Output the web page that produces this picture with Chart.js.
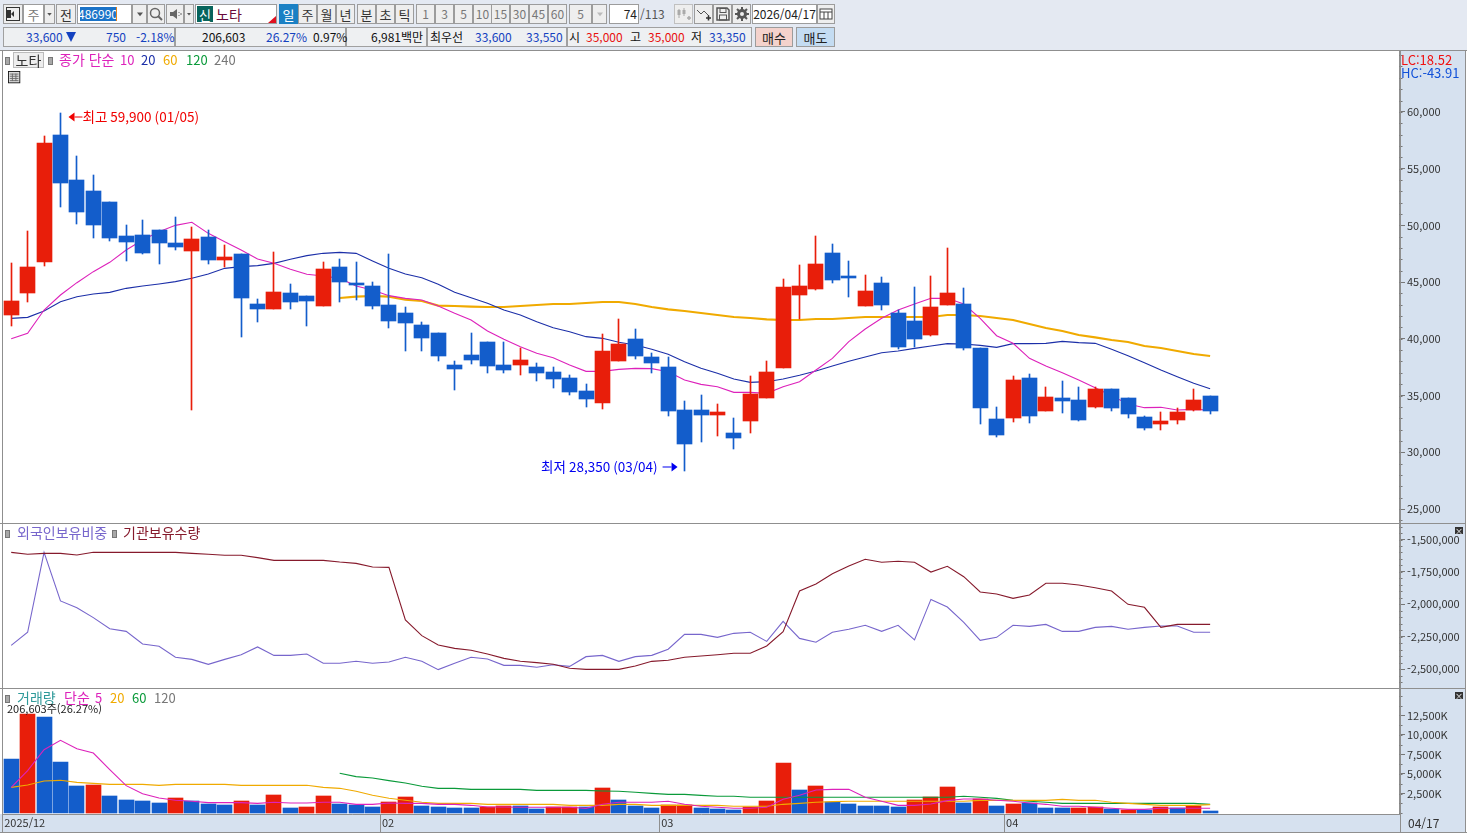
<!DOCTYPE html>
<html lang="ko">
<head>
<meta charset="utf-8">
<title>노타 486990 일봉</title>
<script src="https://cdn.jsdelivr.net/npm/chart.js@4"></script>
<style>
  html, body { margin: 0; padding: 0; background: #fff; overflow: hidden; }
  body { width: 1467px; height: 835px; position: relative; font-family: "Noto Sans CJK KR", "Noto Sans", sans-serif; }
  .abs { position: absolute; white-space: pre; box-sizing: border-box; line-height: 1; }
  .btn { display: flex; align-items: center; justify-content: center; background: #eeeeee; border: 1px solid #9c9c9c; color: #333; font-size: 13px; }
  .cell { background: #eef0f2; border: 1px solid #a0a0a0; }
  .txt { font-size: 12px; display: flex; align-items: center; }
  .rule { position: absolute; background: #8f8f8f; }
  canvas { position: absolute; left: 0; }
</style>
</head>
<body>
<div class="abs" style="left:0;top:0;width:1467px;height:50px;background:#e4e9f2"></div>
<canvas id="priceChart" width="1465" height="472" style="top:51px"></canvas>
<canvas id="holdingChart" width="1465" height="164" style="top:524px"></canvas>
<canvas id="volumeChart" width="1465" height="143" style="top:689px"></canvas>
<div id="chrome"></div>
<script>
// Trading days shown on the shared time axis
const tradingDays = [
  '12/29','12/30','01/02','01/05','01/06','01/07','01/08','01/09','01/12','01/13','01/14','01/15','01/16',
  '01/19','01/20','01/21','01/22','01/23','01/26','01/27','01/28','01/29','01/30','02/02','02/03','02/04',
  '02/05','02/06','02/09','02/10','02/11','02/12','02/13','02/19','02/20','02/23','02/24','02/25','02/26',
  '02/27','03/03','03/04','03/05','03/06','03/09','03/10','03/11','03/12','03/13','03/16','03/17','03/18',
  '03/19','03/20','03/23','03/24','03/25','03/26','03/27','03/30','03/31','04/01','04/02','04/03','04/06',
  '04/07','04/08','04/09','04/10','04/13','04/14','04/15','04/16','04/17'
];
const emptySlots = 11;
const monthLabels = { 0: '2025/12', 23: '02', 40: '03', 61: '04' };

// Daily prices (KRW)
const openPrices = [42100,44050,46750,58000,54000,53000,52100,49050,49150,49600,48450,47750,48950,46950,47450,43050,42650,44050,43750,42900,46350,44900,44650,43000,42250,41200,40500,37700,38550,39700,37700,37700,37500,37050,36550,35400,34350,38050,40000,38400,37500,33700,33700,33300,31700,32750,34800,37450,43850,44400,47550,45550,42900,44900,42250,41550,40350,43000,43050,39200,32950,33000,36550,33650,34800,34600,34000,35600,34800,33100,32500,32850,33700,35000];
const closePrices = [43350,46350,57300,53700,51200,50000,48900,48550,47550,48450,48100,48800,46950,47200,43600,42650,44150,43250,43350,46150,45000,44750,42900,41550,41400,40050,38500,37350,38150,37600,37250,38150,37000,36450,35300,34700,38900,39550,38500,37850,33650,30750,33300,33550,31250,35150,37050,44550,44650,46600,45200,45350,44200,43000,39300,40000,42800,44050,39200,33900,31500,36350,33200,34850,34500,32850,35600,33900,33400,32150,32750,33550,34600,33600];
const highPrices = [46700,49500,57900,59900,56100,54400,52100,50000,50500,49600,50700,49850,49600,48250,47450,43500,47650,44850,43750,46750,47050,46750,45000,47450,42800,41500,40500,38050,40500,39700,39700,39200,37850,37500,36800,36000,40400,41750,40850,38750,38400,34500,35050,34250,33000,36700,38050,45250,46500,49050,48350,46850,45600,45450,42550,44550,45550,48000,44500,39200,34000,36700,36900,35750,36300,35750,35750,35600,34800,33200,33550,33900,35600,35000];
const lowPrices = [41150,43250,46450,51600,50100,48900,48600,46850,47450,46600,47850,33700,46600,46350,40150,41500,42650,42650,41150,42900,43250,43400,42650,40950,38900,38900,38050,35500,37800,37000,37000,36800,36300,35650,35050,34000,33800,38050,38200,37000,33200,28350,30900,31450,30300,31700,34800,37450,41750,44300,44900,43700,42900,42550,39100,39300,40250,43000,39000,32500,31350,32650,32600,33650,33450,32750,33900,33650,33000,31950,31950,32500,33650,33350];

// Closing-price moving averages
const priceMa10 = [40012,40482,42538,43860,44947,45917,46739,47826,48708,49442,50000,50265,49295,48561,47826,47033,46651,46122,45682,45535,45329,44654,44301,43802,43567,43420,42891,42245,41657,40688,39953,39307,38720,38338,37691,37133,37133,37309,37398,37369,37104,36369,35987,35782,35282,35282,35194,35782,36222,37251,38279,39748,40864,41804,42539,43067,43567,43567,43067,41804,40276,39601,38279,37603,37016,36369,35694,34989,34254,33931,33961,33725,33784,33725];
const priceMa20 = [41804,41892,42450,43273,43714,43949,44095,44448,44654,44830,45036,45329,45711,46211,46357,46446,46651,47004,47327,47533,47621,47533,46857,46211,45711,45388,44801,44096,43625,43126,42539,42098,41510,40982,40629,40188,40041,39689,39454,39072,38631,37985,37398,36957,36457,36164,36222,36457,36781,37163,37603,38014,38396,38778,38925,39160,39366,39571,39541,39425,39248,39571,39571,39601,39777,39660,39601,39072,38514,37897,37251,36663,36076,35606];
const priceMa60 = [null,null,null,null,null,null,null,null,null,null,null,null,null,null,null,null,null,null,null,null,43596,43714,43772,43714,43449,43332,42920,42891,42832,42803,42803,42891,42979,43067,43067,43155,43244,43244,43067,42803,42597,42450,42274,42098,41922,41833,41716,41657,41657,41745,41745,41833,41922,41922,41922,41922,41922,42098,42098,42010,41833,41657,41305,40952,40688,40335,40130,39895,39718,39366,39190,38925,38661,38484];

// Institutional holdings (shares) and the foreign holding ratio read on the same panel
const institutionHoldings = [-1599,-1614,-1607,-1607,-1620,-1599,-1599,-1599,-1599,-1599,-1599,-1607,-1614,-1622,-1622,-1640,-1661,-1661,-1661,-1661,-1674,-1684,-1712,-1715,-2121,-2242,-2314,-2340,-2355,-2383,-2417,-2440,-2450,-2463,-2494,-2502,-2502,-2502,-2476,-2440,-2432,-2409,-2399,-2389,-2378,-2378,-2322,-2211,-1897,-1843,-1764,-1704,-1653,-1676,-1668,-1676,-1751,-1707,-1787,-1905,-1920,-1954,-1928,-1838,-1838,-1851,-1872,-1897,-2000,-2023,-2178,-2155,-2155,-2155];
const foreignRatio = [-2317,-2216,-1599,-1974,-2026,-2103,-2188,-2209,-2306,-2324,-2409,-2425,-2463,-2425,-2389,-2329,-2394,-2394,-2383,-2455,-2455,-2440,-2455,-2445,-2409,-2440,-2504,-2455,-2409,-2422,-2471,-2471,-2486,-2466,-2479,-2404,-2394,-2440,-2404,-2394,-2347,-2232,-2232,-2255,-2224,-2216,-2286,-2131,-2263,-2293,-2216,-2193,-2162,-2209,-2162,-2275,-1962,-2021,-2139,-2278,-2255,-2162,-2170,-2155,-2209,-2209,-2178,-2170,-2193,-2178,-2167,-2167,-2216,-2216];

// Traded volume (thousand shares); 1 marks a day with more volume than the day before
const volumes = [6924,12692,12307,6539,3462,3591,2180,1668,1540,1283,1924,1540,1155,1027,1540,1027,2309,642,770,2180,1155,1027,770,1411,2052,899,770,642,642,770,899,899,514,728,728,728,3206,1668,899,642,1027,1027,642,514,386,770,1540,6411,2950,3462,1411,1155,899,899,770,1668,2052,3334,1283,1796,899,1155,1283,642,642,642,770,557,429,429,770,600,942,206.603];
const volumeRising = [0,1,0,0,0,1,0,0,0,0,1,0,0,0,1,0,1,0,1,1,0,0,0,1,1,0,0,0,0,1,1,0,0,1,1,0,1,0,0,0,1,1,0,0,0,1,1,1,0,1,0,0,0,0,0,1,1,1,0,1,0,1,0,0,0,1,1,0,1,0,1,0,1,0];
const volumeMa5 = [3291,5428,8120,9316,8248,7693,5556,3505,2480,1924,1625,1497,1326,1326,1326,1240,1369,1283,1283,1369,1369,1112,1112,1283,1240,1240,1112,1112,984,770,770,728,728,728,728,600,1112,1369,1369,1369,1497,1112,856,728,600,600,728,1753,2266,2950,3035,3035,2010,1497,984,984,1155,1582,1796,1796,1625,1497,1283,1112,856,856,728,600,471,471,600,600,600,600];
const volumeMa20 = [3291,3591,4103,4189,3932,3804,3676,3676,3676,3548,3676,3676,3676,3676,3548,3548,3548,3548,3548,3291,3163,2779,2266,1881,1625,1369,1240,1240,1240,1112,1112,1112,1112,1112,984,984,984,1112,1112,984,984,984,984,984,856,856,856,1112,1240,1369,1454,1497,1497,1497,1497,1497,1497,1497,1497,1625,1625,1625,1625,1625,1753,1625,1625,1369,1240,1112,984,984,984,1070];
const volumeMa60 = [null,null,null,null,null,null,null,null,null,null,null,null,null,null,null,null,null,null,null,null,5086,4659,4488,4146,3847,3420,3163,3163,3035,3035,3035,3035,2907,2907,2907,2907,2821,2779,2651,2522,2394,2394,2266,2138,2138,2010,2010,2010,2010,2010,2010,2010,2010,2010,2010,2010,2010,2010,2138,2010,1881,1625,1497,1369,1240,1240,1240,1240,1240,1240,1240,1240,1240,1112];

// Axis tick labels
const priceTicks = [25000,30000,35000,40000,45000,50000,55000,60000];
const holdingTicks = [-2500,-2250,-2000,-1750,-1500];
const volumeTicks = [2500,5000,7500,10000,12500];

const RED = '#e81e0a', BLUE = '#135dcb', AXIS_STRIP = '#d6e1ef', FRAME = '#8f8f8f';
const FONT = '"Noto Sans CJK KR", "Noto Sans", sans-serif';
const categories = tradingDays.concat(Array(emptySlots).fill(''));
const num = v => v.toLocaleString('en-US');

// Fills the value-axis strip, adds short minor marks, and snaps bars to whole pixels
const panelPlugin = {
  id: 'panel',
  afterDatasetsUpdate(chart) {
    chart.data.datasets.forEach((ds, i) => {
      if (ds.type !== 'bar') return;
      chart.getDatasetMeta(i).data.forEach(el => {
        el.x = Math.floor(el.x) + 0.5;
        el.y = Math.round(el.y);
        el.base = Math.round(el.base);
        if (el.y === el.base) el.base += 1;
      });
    });
  },
  beforeDraw(chart) {
    const { ctx, chartArea: a, width, height } = chart;
    ctx.save();
    ctx.fillStyle = AXIS_STRIP;
    ctx.fillRect(a.right, 0, width - a.right, height);
    if (height > a.bottom) ctx.fillRect(0, a.bottom, a.right, height - a.bottom);
    ctx.restore();
  },
  afterDraw(chart, _args, opts) {
    const { ctx, scales: { y } } = chart;
    const x0 = y.left + 0.5;
    ctx.save();
    ctx.strokeStyle = '#777';
    ctx.lineWidth = 1;
    ctx.beginPath();
    for (let v = Math.ceil(y.min / opts.step) * opts.step; v <= y.max; v += opts.step) {
      const py = Math.round(y.getPixelForValue(v)) + 0.5;
      ctx.moveTo(x0, py);
      ctx.lineTo(x0 + 3, py);
    }
    ctx.stroke();
    ctx.restore();
  }
};

// High and low callouts, placed from the same price scale as the candles
const extremesPlugin = {
  id: 'extremes',
  afterDatasetsDraw(chart) {
    const { ctx, scales: { x, y } } = chart;
    const maxIdx = highPrices.indexOf(Math.max(...highPrices));
    const minIdx = lowPrices.indexOf(Math.min(...lowPrices));
    ctx.save();
    ctx.font = '13.5px ' + FONT;
    ctx.textBaseline = 'middle';

    const hx = x.getPixelForValue(maxIdx) + 8, hy = y.getPixelForValue(highPrices[maxIdx]) + 4;
    ctx.fillStyle = ctx.strokeStyle = '#f00000';
    ctx.beginPath(); ctx.moveTo(hx, hy); ctx.lineTo(hx + 6, hy - 4.5); ctx.lineTo(hx + 6, hy + 4.5); ctx.fill();
    ctx.fillRect(hx + 6, hy - 0.5, 8, 1);
    ctx.textAlign = 'left';
    ctx.fillText(`최고 ${num(highPrices[maxIdx])} (${tradingDays[maxIdx]})`, hx + 14, hy);

    const lx = x.getPixelForValue(minIdx) - 7, ly = y.getPixelForValue(lowPrices[minIdx]) - 4;
    ctx.fillStyle = ctx.strokeStyle = '#0000f0';
    ctx.beginPath(); ctx.moveTo(lx, ly); ctx.lineTo(lx - 6, ly - 4.5); ctx.lineTo(lx - 6, ly + 4.5); ctx.fill();
    ctx.fillRect(lx - 15, ly - 0.5, 9, 1);
    ctx.textAlign = 'right';
    ctx.fillText(`최저 ${num(lowPrices[minIdx])} (${tradingDays[minIdx]})`, lx - 20, ly);
    ctx.restore();
  }
};

function rightAxis(min, max, ticks, fmt) {
  return {
    position: 'right', min, max,
    afterFit: ax => { ax.width = 66; ax.paddingTop = 0; ax.paddingBottom = 0; },
    afterBuildTicks: ax => { ax.ticks = ticks.map(value => ({ value })); },
    grid: { drawOnChartArea: false, tickLength: 6, color: '#777' },
    border: { color: FRAME },
    ticks: { autoSkip: false, padding: 2, color: '#333', font: { family: FONT, size: 11 }, callback: fmt }
  };
}
const hiddenX = { display: false, offset: true };
const baseOptions = { responsive: false, animation: false, events: [], layout: { autoPadding: false, padding: { left: 3 } } };
const lineSet = (data, color, width, order) => ({
  type: 'line', data, borderColor: color, borderWidth: width, pointRadius: 0, tension: 0, order, spanGaps: false
});

const candleColors = openPrices.map((o, i) => (closePrices[i] >= o ? RED : BLUE));
new Chart(document.getElementById('priceChart'), {
  data: {
    labels: categories,
    datasets: [
      { type: 'bar', data: openPrices.map((o, i) => [o, closePrices[i]]), backgroundColor: candleColors, barThickness: 15, grouped: false, order: 1 },
      { type: 'bar', data: lowPrices.map((l, i) => [l, highPrices[i]]), backgroundColor: candleColors, barThickness: 1, grouped: false, order: 2 },
      lineSet(priceMa10, '#dd22bb', 1.1, 3),
      lineSet(priceMa20, '#1c2fa8', 1.1, 4),
      lineSet(priceMa60, '#f0aa00', 2.2, 5)
    ]
  },
  options: {
    ...baseOptions,
    plugins: { legend: { display: false }, tooltip: { enabled: false }, panel: { step: 1000 } },
    scales: { x: hiddenX, y: rightAxis(23767, 65364, priceTicks, v => num(v)) }
  },
  plugins: [panelPlugin, extremesPlugin]
});

new Chart(document.getElementById('holdingChart'), {
  data: {
    labels: categories,
    datasets: [
      lineSet(foreignRatio, '#7766cc', 1.1, 2),
      lineSet(institutionHoldings, '#861a2c', 1.1, 1)
    ]
  },
  options: {
    ...baseOptions,
    plugins: { legend: { display: false }, tooltip: { enabled: false }, panel: { step: 50 } },
    scales: { x: hiddenX, y: rightAxis(-2645.8, -1380.4, holdingTicks, v => num(v * 1000)) }
  },
  plugins: [panelPlugin]
});

new Chart(document.getElementById('volumeChart'), {
  data: {
    labels: categories,
    datasets: [
      { type: 'bar', data: volumes, backgroundColor: volumeRising.map(r => (r ? RED : BLUE)), barThickness: 15, order: 5 },
      lineSet(volumeMa5, '#dd22bb', 1.1, 1),
      lineSet(volumeMa20, '#f0aa00', 1.1, 2),
      lineSet(volumeMa60, '#0a9a3a', 1.1, 3)
    ]
  },
  options: {
    ...baseOptions,
    plugins: { legend: { display: false }, tooltip: { enabled: false }, panel: { step: 1250 } },
    scales: {
      x: {
        offset: true,
        afterFit: ax => { ax.height = 18; ax.paddingLeft = 0; ax.paddingRight = 0; },
        grid: {
          offset: true, drawOnChartArea: false, tickLength: 18,
          color: c => (c.index in monthLabels ? FRAME : 'rgba(0,0,0,0)')
        },
        border: { color: FRAME },
        ticks: {
          autoSkip: false, maxRotation: 0, minRotation: 0, align: 'start', labelOffset: -7, padding: -16,
          color: '#333', font: { family: FONT, size: 11 },
          callback: (v, i) => monthLabels[i] || ''
        }
      },
      y: rightAxis(-128, 15897, volumeTicks, v => num(v) + 'K')
    }
  },
  plugins: [panelPlugin]
});

// Terminal chrome around the charts: toolbars, legends, frame lines
const chrome = document.getElementById('chrome');
function put(cls, x, y, w, h, text, css) {
  const el = document.createElement('div');
  el.className = 'abs ' + cls;
  el.style.cssText = `left:${x}px;top:${y}px;` + (w ? `width:${w}px;` : '') + (h ? `height:${h}px;` : '') + (css || '');
  if (text && text.startsWith('<')) el.innerHTML = text; else if (text) el.textContent = text;
  chrome.appendChild(el);
  return el;
}
const svg = (body, s = 16) => `<svg width="${s}" height="${s}" viewBox="0 0 16 16">${body}</svg>`;
const arrowDown = svg('<path d="M4 6h8l-4 5z" fill="#555"/>', 12);

const R1 = 4, RH = 20;
put('btn', 3, R1, 20, RH, svg('<rect x="1.5" y="1.5" width="13" height="13" fill="none" stroke="#333"/><rect x="1" y="4" width="5" height="8" fill="#333"/><path d="M6 8l3-3v6z" fill="#333"/>'));
put('btn', 23, R1, 21, RH, '주', 'background:#fff;color:#777');
put('btn', 44, R1, 11, RH, arrowDown);
put('btn', 56, R1, 20, RH, '전');
put('btn', 77, R1, 55, RH, '', 'background:#fff');
put('txt', 80, R1 + 3, 36, 14, '486990', 'background:#1a73c8;color:#fff;justify-content:center');
put('abs', 116, R1 + 3, 1, 14, '', 'background:#e08020');
put('btn', 132, R1, 15, RH, arrowDown);
put('btn', 147, R1, 18, RH, svg('<circle cx="7" cy="7" r="4.5" fill="none" stroke="#666" stroke-width="1.5"/><path d="M10 10l4 4" stroke="#666" stroke-width="2"/>'));
put('btn', 166, R1, 18, RH, svg('<path d="M3 6h3l4-3v10l-4-3H3z" fill="#666"/><path d="M12 6v1M12 9v1M14 7v2" stroke="#666"/>'));
put('btn', 184, R1, 10, RH, arrowDown);
put('abs', 195, R1, 82, RH, '', 'background:#fff;border:1px solid #9c9c9c');
put('btn', 197, R1 + 2, 16, 16, '신', 'background:#07645c;color:#fff;border:0');
put('txt', 216, R1 + 1, 0, 18, '노타', 'font-size:14px;color:#6a0a3c');
put('abs', 268, R1 + 12, 8, 7, '', 'background:#e01020;clip-path:polygon(100% 0,100% 100%,0 100%)');
put('btn', 279, R1, 19, RH, '일', 'background:#1a80c4;color:#fff;border-color:#1a80c4');
[['주', 298], ['월', 317], ['년', 336], ['분', 357], ['초', 376], ['틱', 395]].forEach(([t, x]) => put('btn', x, R1, 19, RH, t));
[['1', 416], ['3', 435], ['5', 454], ['10', 473], ['15', 491], ['30', 510], ['45', 529], ['60', 548]].forEach(([t, x]) => put('btn', x, R1, 19, RH, t, 'color:#777;font-size:12px'));
put('btn', 569, R1, 23, RH, '5', 'color:#777;font-size:12px');
put('btn', 592, R1, 15, RH, svg('<path d="M4 6h8l-4 5z" fill="#bbb"/>', 12));
put('btn', 609, R1, 30, RH, '74', 'background:#fff;justify-content:flex-end;padding-right:1px;font-size:12px;color:#222');
put('txt', 640, R1 + 1, 0, 18, '/113', 'color:#555');
put('btn', 674, R1, 19, RH, svg('<path d="M3 3v9M8 2v8" stroke="#aaa"/><rect x="1.5" y="4" width="3" height="5" fill="#aaa"/><rect x="6.5" y="4" width="3" height="4" fill="#aaa"/><path d="M11 12h4M13 10v4" stroke="#aaa" stroke-width="1.5"/>'), 'border-color:#c0c0c0');
put('btn', 694, R1, 19, RH, svg('<path d="M1 4l4 4 3-3 5 5" fill="none" stroke="#555"/><path d="M10 12h5M12.5 9.5v5" stroke="#333" stroke-width="1.6"/>'));
put('btn', 713, R1, 19, RH, svg('<path d="M2 2h10l2 2v10H2z" fill="none" stroke="#555" stroke-width="1.5"/><rect x="5" y="2.5" width="6" height="4" fill="none" stroke="#555"/><rect x="4.5" y="9" width="7" height="5" fill="none" stroke="#555"/>'));
put('btn', 732, R1, 19, RH, svg('<circle cx="8" cy="8" r="3.5" fill="none" stroke="#555" stroke-width="3"/><path d="M8 1v3M8 12v3M1 8h3M12 8h3M3 3l2 2M11 11l2 2M13 3l-2 2M5 11l-2 2" stroke="#555" stroke-width="2"/>'));
put('btn', 752, R1, 65, RH, '2026/04/17', 'background:#fff;font-size:12px;color:#222');
put('btn', 817, R1, 18, RH, svg('<rect x="2" y="3" width="12" height="10" fill="#fff" stroke="#444"/><path d="M2 6h12M6 6v7M10 6v7" stroke="#444"/>'));

const R2 = 27, R2H = 20;
put('cell', 3, R2, 172, R2H);
put('cell', 175, R2, 171, R2H);
put('cell', 346, R2, 81, R2H);
put('cell', 427, R2, 140, R2H);
put('cell', 567, R2, 185, R2H);
const T2 = '#1442c0', TR = '#e81010', TK = '#111';
[['33,600', 26, T2], ['750', 106, T2], ['-2.18%', 136, T2], ['206,603', 202, TK], ['26.27%', 266, T2], ['0.97%', 313, TK],
 ['6,981백만', 371, TK], ['최우선', 430, TK], ['33,600', 475, T2], ['33,550', 526, T2], ['시', 569, TK], ['35,000', 586, TR],
 ['고', 630, TK], ['35,000', 648, TR], ['저', 691, TK], ['33,350', 709, T2]].forEach(([t, x, c]) => put('txt', x, R2, 0, R2H, t, `color:${c}`));
put('abs', 66, R2 + 5, 10, 10, '', `background:${T2};clip-path:polygon(0 0,100% 0,50% 100%)`);
put('btn', 755, R2, 38, R2H, '매수', 'background:#f4d2cc;color:#222');
put('btn', 796, R2, 39, R2H, '매도', 'background:#c4dcf2;color:#222');

const LEG = 14;
const chip = (x, y) => put('abs', x, y - 3, 5, 8, '', 'background:#a8a8a8;border:1px solid #777');
const legend = (x, y, t, c, s) => put('txt', x, y - 9, 0, 16, t, `color:${c};font-size:${s || 13}px`);
chip(5, 60);
put('btn', 13, 52, 31, 16, '노타', 'background:#eee;border-color:#bbb;font-size:14px');
chip(48, 60);
legend(59, 60, '종가 단순', '#dd22bb', LEG);
legend(120, 60, '10', '#dd22bb');
legend(141, 60, '20', '#1c2fa8');
legend(163, 60, '60', '#f0aa00');
legend(186, 60, '120', '#0a9a3a');
legend(214, 60, '240', '#777');
put('abs', 8, 70, 14, 14, svg('<rect x="0.5" y="0.5" width="13" height="13" fill="#ddd" stroke="#111"/><path d="M2 3.5h10M2 6h10M2 8.5h10M2 11h10M5 3v8.5M9 3v8.5" stroke="#666"/>', 14));
put('txt', 1401, 52, 0, 14, 'LC:18.52', 'color:#f01010;font-size:13px');
put('txt', 1401, 65, 0, 14, 'HC:-43.91', 'color:#1050d8;font-size:13px');

chip(5, 533);
legend(17, 533, '외국인보유비중', '#7766cc', LEG);
chip(112, 533);
legend(123, 533, '기관보유수량', '#861a2c', LEG);
chip(5, 698);
legend(17, 698, '거래량', '#2f9a9a', LEG);
legend(64, 698, '단순', '#dd22bb', LEG);
legend(95, 698, '5', '#dd22bb');
legend(110, 698, '20', '#f0aa00');
legend(132, 698, '60', '#0a9a3a');
legend(154, 698, '120', '#777');
put('txt', 7, 701, 0, 14, '206,603주(26.27%)', 'color:#222;font-size:11px');
put('txt', 1408, 815, 0, 16, '04/17', 'color:#333;font-size:12px');

const closeMark = y => put('btn', 1455, y, 8, 7, '×', 'background:#333;color:#fff;border:0;font-size:8px');
closeMark(527);
closeMark(692);

// Frame lines between the panels
const rule = (x, y, w, h) => { const r = document.createElement('div'); r.className = 'rule'; r.style.cssText = `left:${x}px;top:${y}px;width:${w}px;height:${h}px`; chrome.appendChild(r); };
rule(0, 50, 1467, 1);
rule(2, 50, 1, 782);
rule(0, 523, 1465, 1);
rule(0, 688, 1465, 1);
rule(0, 832, 1467, 1);
rule(1400, 50, 1, 782);
rule(1465, 50, 1, 782);
</script>
</body>
</html>
